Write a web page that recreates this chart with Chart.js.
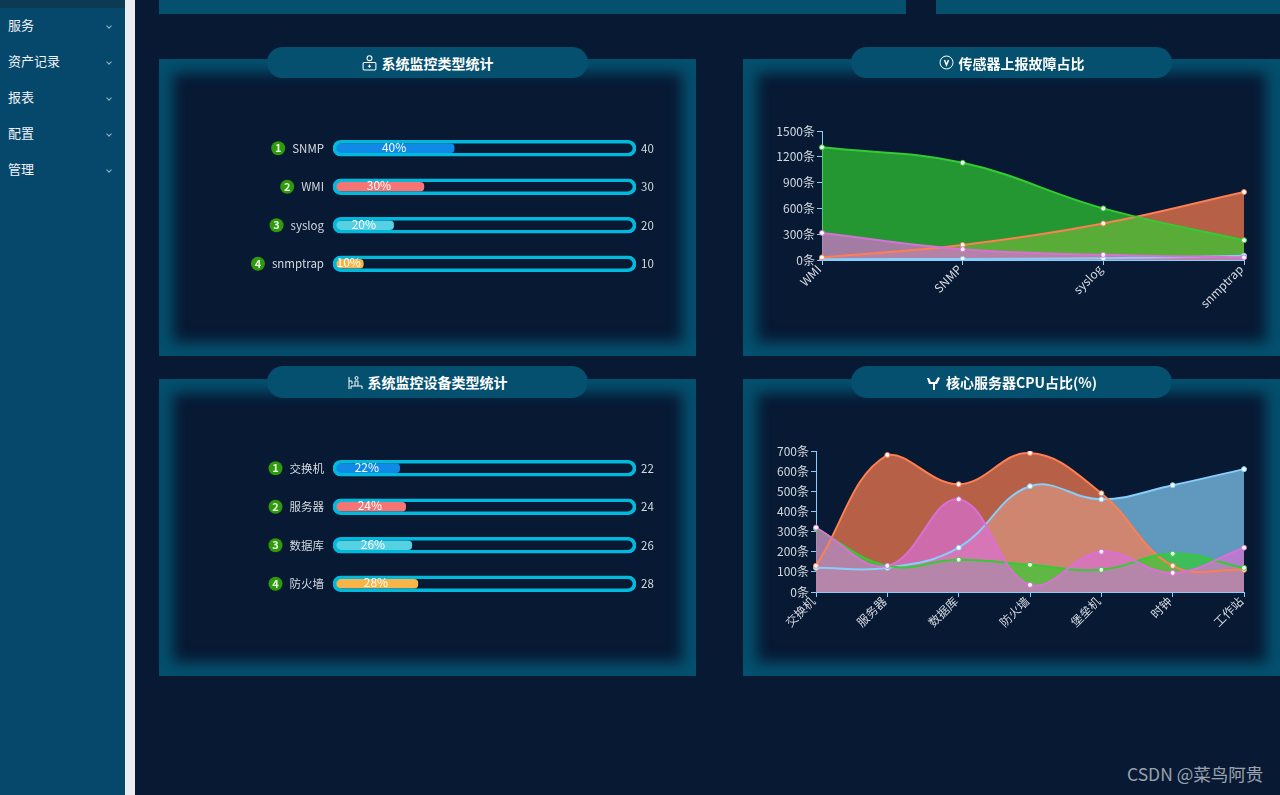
<!DOCTYPE html>
<html>
<head>
<meta charset="utf-8">
<title>监控</title>
<script src="https://cdn.jsdelivr.net/npm/chart.js@4/dist/chart.umd.js"></script>
<style>
    html, body { margin: 0; padding: 0; width: 1280px; height: 795px; overflow: hidden; background: #071933; font-family: "Noto Sans CJK SC", "Noto Sans", sans-serif; }
    .sidebar { position: absolute; left: 0; top: 0; width: 125px; height: 795px; background: #06476c; }
    .sidebar .top { height: 8px; background: #0c3a52; }
    .sidebar .item { position: absolute; left: 0; width: 125px; height: 36px; line-height: 34px; color: #f0f4f8; font-size: 13px; padding-left: 8px; box-sizing: border-box; }
    .sidebar .item i { position: absolute; left: 107px; top: 16px; width: 3px; height: 3px; border-right: 1px solid #9ab4c8; border-bottom: 1px solid #9ab4c8; transform: rotate(45deg); }
    .strip { position: absolute; left: 125px; top: 0; width: 10px; height: 795px; background: #e9edf1; }
    .stub { position: absolute; top: 0; height: 14px; background: #04506e; }
    .panel { position: absolute; width: 537px; height: 297px; background: #071933; box-shadow: inset 0 0 14px 14px #04506e; overflow: hidden; }
    .panel canvas { position: absolute; left: 0; top: 0; }
    .pill { position: absolute; width: 321px; height: 31px; border-radius: 16px; background: #04506e; color: #fff; font-size: 14px; font-weight: bold; display: flex; align-items: center; justify-content: center; gap: 5px; }
    .pill svg { display: block; }
    .mark { position: absolute; left: 1127px; top: 761px; color: rgba(255,255,255,.6); font-size: 17.5px; }
</style>
</head>
<body>
<div class="sidebar">
    <div class="top"></div>
    <div class="item" style="top:8px">服务<i></i></div>
    <div class="item" style="top:44px">资产记录<i></i></div>
    <div class="item" style="top:80px">报表<i></i></div>
    <div class="item" style="top:116px">配置<i></i></div>
    <div class="item" style="top:152px">管理<i></i></div>
</div>
<div class="strip"></div>
<div class="stub" style="left:159px;width:747px"></div>
<div class="stub" style="left:936px;width:344px"></div>

<div class="panel" style="left:159px;top:59px"><canvas id="typeChart" width="537" height="297"></canvas></div>
<div class="panel" style="left:743px;top:59px"><canvas id="sensorChart" width="537" height="297"></canvas></div>
<div class="panel" style="left:159px;top:379px"><canvas id="deviceChart" width="537" height="297"></canvas></div>
<div class="panel" style="left:743px;top:379px"><canvas id="cpuChart" width="537" height="297"></canvas></div>

<div class="pill" style="left:267px;top:47px">
    <svg width="15" height="16" viewBox="0 0 14 15" fill="none" stroke="#fff"><circle cx="7" cy="3" r="2.3"/><rect x="1" y="7" width="12" height="7" rx="1"/><path d="M7 9v3M5.500 10.500h3"/></svg>
    <span>系统监控类型统计</span>
</div>
<div class="pill" style="left:851px;top:47px">
    <svg width="15" height="15" viewBox="0 0 15 15" fill="none" stroke="#fff"><circle cx="7.500" cy="7.500" r="6.500"/><path d="M5.500 5l2 5 2-5" stroke-width="1.500"/></svg>
    <span>传感器上报故障占比</span>
</div>
<div class="pill" style="left:267px;top:366px;height:32px">
    <svg width="15" height="15" viewBox="0 0 15 15" fill="none" stroke="#fff"><path d="M1 14V2M1 6h3v3M14 14v-3H3v3M7 11V6h3v5"/><circle cx="8.500" cy="3" r="1.500"/></svg>
    <span>系统监控设备类型统计</span>
</div>
<div class="pill" style="left:851px;top:366px;height:32px">
    <svg width="15" height="15" viewBox="0 0 15 15" fill="#fff"><path d="M7 15V9H3L1 3l2 0 2 4h4l3-5 2 1-3 6H9v6z"/></svg>
    <span>核心服务器CPU占比(%)</span>
</div>
<div class="mark">CSDN @菜鸟阿贵</div>

<script>
    const typeLabels = ['SNMP', 'WMI', 'syslog', 'snmptrap'];
    const typeValues = [40, 30, 20, 10];

    const deviceLabels = ['交换机', '服务器', '数据库', '防火墙'];
    const deviceValues = [22, 24, 26, 28];

    const barColors = ['#1089e7', '#f57474', '#56d0e3', '#f8b448'];

    const sensorLabels = ['WMI', 'SNMP', 'syslog', 'snmptrap'];
    const sensorTicks = [0, 300, 600, 900, 1200, 1500];
    const sensorGreen = [1310, 1130, 600, 230];
    const sensorOrange = [30, 175, 425, 790];
    const sensorPink = [315, 125, 60, 30];
    const sensorBlue = [10, 12, 20, 50];

    const cpuLabels = ['交换机', '服务器', '数据库', '防火墙', '堡垒机', '时钟', '工作站'];
    const cpuTicks = [0, 100, 200, 300, 400, 500, 600, 700];
    const cpuGreen = [315, 130, 160, 135, 110, 190, 120];
    const cpuOrange = [130, 680, 535, 690, 490, 130, 110];
    const cpuPink = [320, 130, 460, 35, 200, 95, 220];
    const cpuBlue = [120, 120, 220, 525, 460, 530, 610];

    const FONT = '"Noto Sans CJK SC", "Noto Sans", sans-serif';
    const TEXT = '#d4d9e0';

    // number badges and the percent text on the bars
    const barDecor = {
        id: 'barDecor',
        afterDatasetsDraw(chart) {
            const ctx = chart.ctx;
            const bars = chart.getDatasetMeta(1).data;
            const yScale = chart.scales.y;
            ctx.save();
            ctx.textAlign = 'center';
            ctx.textBaseline = 'middle';
            bars.forEach((bar, i) => {
                ctx.font = '12px ' + FONT;
                ctx.fillStyle = '#fff';
                ctx.fillText(chart.data.datasets[1].data[i] + '%', (bar.x + bar.base) / 2 - 1, bar.y - 1);

                ctx.font = '11.5px ' + FONT;
                const w = ctx.measureText(chart.data.labels[i]).width;
                const cx = yScale.right - 9 - w - 14;
                ctx.beginPath();
                ctx.arc(cx, bar.y, 7, 0, Math.PI * 2);
                ctx.fillStyle = '#2f9a0c';
                ctx.fill();
                ctx.font = 'bold 11px ' + FONT;
                ctx.fillStyle = '#e8f5e0';
                ctx.fillText(String(i + 1), cx, bar.y);
            });
            ctx.restore();
        }
    };

    function makeBarChart(id, labels, values) {
        new Chart(document.getElementById(id), {
            type: 'bar',
            data: {
                labels: labels,
                datasets: [
                    {
                        data: labels.map(() => 100),
                        backgroundColor: 'transparent',
                        borderColor: '#00b9dc',
                        borderWidth: 3,
                        borderSkipped: false,
                        borderRadius: 8,
                        barThickness: 16,
                        order: 0
                    },
                    {
                        data: values,
                        base: 1,
                        backgroundColor: barColors,
                        borderSkipped: false,
                        borderRadius: 4,
                        barThickness: 9,
                        order: 1
                    }
                ]
            },
            options: {
                indexAxis: 'y',
                responsive: false,
                animation: false,
                layout: { padding: { top: 70, bottom: 73 } },
                plugins: { legend: { display: false }, tooltip: { enabled: false } },
                datasets: { bar: { grouped: false } },
                scales: {
                    x: { display: false, min: 0, max: 100 },
                    y: {
                        offset: true,
                        afterFit: s => { s.width = 174; },
                        grid: { display: false, drawTicks: false },
                        border: { display: false },
                        ticks: { color: TEXT, padding: 9, font: { size: 11.5, family: FONT } }
                    },
                    y2: {
                        type: 'category',
                        labels: values.map(String),
                        position: 'right',
                        offset: true,
                        afterFit: s => { s.width = 60; },
                        grid: { display: false, drawTicks: false },
                        border: { display: false },
                        ticks: { color: TEXT, padding: 5, font: { size: 11.5, family: FONT } }
                    }
                }
            },
            plugins: [barDecor]
        });
    }

    function areaSet(values, r, g, b) {
        return {
            data: values,
            fill: 'origin',
            backgroundColor: `rgba(${r},${g},${b},0.7)`,
            borderColor: `rgb(${r},${g},${b})`,
            borderWidth: 2,
            tension: 0.4,
            pointRadius: 2.5,
            pointBorderWidth: 1,
            pointBackgroundColor: '#fff',
            pointBorderColor: `rgb(${r},${g},${b})`
        };
    }

    function makeLineChart(id, labels, ticks, series, axisLeft, top, bottom) {
        new Chart(document.getElementById(id), {
            type: 'line',
            data: {
                labels: labels,
                // first dataset ends up on top
                datasets: [
                    areaSet(series.pink, 218, 112, 214),
                    areaSet(series.green, 50, 205, 50),
                    areaSet(series.orange, 255, 127, 80),
                    areaSet(series.blue, 135, 206, 250)
                ]
            },
            options: {
                responsive: false,
                animation: false,
                layout: { padding: { top: top, right: 36, bottom: 0 } },
                plugins: {
                    legend: { display: false },
                    tooltip: { enabled: false },
                    filler: { drawTime: 'beforeDatasetsDraw' }
                },
                scales: {
                    x: {
                        offset: false,
                        afterFit: s => { s.height = bottom; },
                        grid: { drawOnChartArea: false, color: '#87cefa', tickLength: 5 },
                        border: { color: '#87cefa' },
                        ticks: { color: TEXT, maxRotation: 45, minRotation: 45, autoSkip: false, padding: -3, labelOffset: -3, font: { size: 12, family: FONT } }
                    },
                    y: {
                        min: ticks[0],
                        max: ticks[ticks.length - 1],
                        afterFit: s => { s.width = axisLeft; },
                        afterBuildTicks: s => { s.ticks = ticks.map(v => ({ value: v })); },
                        grid: { drawOnChartArea: false, color: '#87cefa', tickLength: 5 },
                        border: { color: '#87cefa' },
                        ticks: { color: TEXT, padding: 2, callback: v => v + '条', font: { size: 12, family: FONT } }
                    }
                }
            }
        });
    }

    makeBarChart('typeChart', typeLabels, typeValues);
    makeBarChart('deviceChart', deviceLabels, deviceValues);
    makeLineChart('sensorChart', sensorLabels, sensorTicks,
        { green: sensorGreen, orange: sensorOrange, pink: sensorPink, blue: sensorBlue }, 79, 72, 96);
    makeLineChart('cpuChart', cpuLabels, cpuTicks,
        { green: cpuGreen, orange: cpuOrange, pink: cpuPink, blue: cpuBlue }, 73, 72, 84);
</script>
</body>
</html>
